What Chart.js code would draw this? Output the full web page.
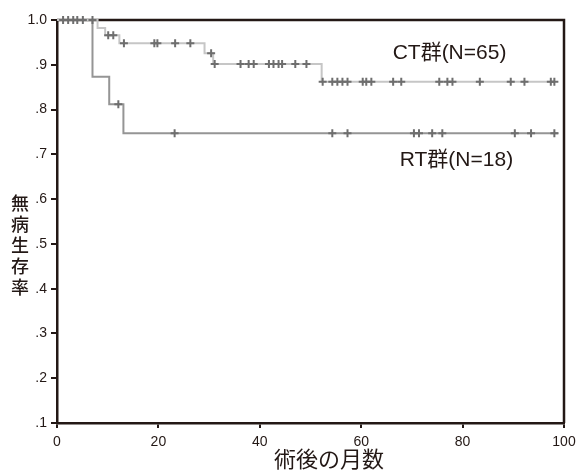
<!DOCTYPE html>
<html>
<head>
<meta charset="utf-8">
<script src="https://cdn.jsdelivr.net/npm/chart.js@4/dist/chart.umd.min.js"></script>
<style>
  html, body { margin: 0; padding: 0; background: #fff; }
  #wrap { width: 577px; height: 470px; }
</style>
</head>
<body>
<div id="wrap"><canvas id="myChart"></canvas></div>
<script>
'use strict'

// step curves (month, survival after the drop)
const ctTimes = [0, 8.0, 9.5, 12.3, 29.1, 30.8, 52.2, 98.1];
const ctSurv = [1, 0.982, 0.966, 0.948, 0.926, 0.902, 0.862, 0.862];
const rtTimes = [0, 7.0, 10.3, 13.1, 98.9];
const rtSurv = [1, 0.873, 0.812, 0.747, 0.747];

// censored cases (month)
const ctCensor = [1.2, 2.2, 3.2, 4.0, 5.1, 7.0, 10.1, 11.1, 13.2, 19.2, 19.8, 23.3, 26.3,
  30.4, 31.1, 36.2, 37.8, 38.8, 41.8, 42.7, 43.7, 44.4, 47.0, 49.2, 52.4, 54.3, 55.3,
  56.3, 57.3, 60.3, 61.0, 62.0, 66.3, 67.9, 75.4, 77.0, 78.0, 83.4, 89.5, 92.2, 97.4, 98.1];
const rtCensor = [12.1, 23.2, 54.3, 57.3, 70.4, 71.4, 74.0, 76.0, 90.3, 93.5, 98.1];

const xTicks = [0, 20, 40, 60, 80, 100];
const yTicks = [0.1, 0.2, 0.3, 0.4, 0.5, 0.6, 0.7, 0.8, 0.9, 1.0];

const ctLabel = 'CT群(N=65)';
const rtLabel = 'RT群(N=18)';
const xTitle = '術後の月数';
const yTitle = '無病生存率';

const INK = '#231815';
const NUM_FONT = '"Liberation Sans", Arial, "Noto Sans CJK JP", sans-serif';
const JP_FONT = '"Noto Sans CJK JP", sans-serif';

// survival value at time t on a step curve
function survAt(times, surv, t) {
  let s = surv[0];
  for (let i = 0; i < times.length; i++) {
    if (times[i] <= t) s = surv[i];
  }
  return s;
}

function curve(times, surv) {
  return times.map((t, i) => ({ x: t, y: surv[i] }));
}

function marks(times, surv, censor) {
  return censor.map(t => ({ x: t, y: survAt(times, surv, t) }));
}

// frame on top/right, drawn under the curves
const framePlugin = {
  id: 'frame',
  beforeDatasetsDraw(chart) {
    const { ctx, chartArea: a } = chart;
    ctx.save();
    ctx.strokeStyle = INK;
    ctx.lineWidth = 2.5;
    ctx.beginPath();
    ctx.moveTo(a.left, a.top);
    ctx.lineTo(a.right, a.top);
    ctx.lineTo(a.right, a.bottom);
    ctx.stroke();
    ctx.restore();
  }
};

// group labels + axis titles
const textPlugin = {
  id: 'texts',
  afterDraw(chart) {
    const { ctx } = chart;
    const xs = chart.scales.x;
    const ys = chart.scales.y;
    ctx.save();
    ctx.fillStyle = INK;
    ctx.textBaseline = 'middle';

    ctx.font = '21px ' + NUM_FONT;
    ctx.textAlign = 'left';
    ctx.fillText(ctLabel, xs.getPixelForValue(66.2), ys.getPixelForValue(0.926));
    ctx.fillText(rtLabel, xs.getPixelForValue(67.6), ys.getPixelForValue(0.687));

    ctx.textAlign = 'center';
    ctx.font = '22px ' + JP_FONT;
    ctx.fillText(xTitle, 329, 459);

    ctx.font = '500 18px ' + JP_FONT;
    for (let i = 0; i < yTitle.length; i++) {
      ctx.fillText(yTitle[i], 20, 203 + i * 21);
    }
    ctx.restore();
  }
};

const ctx = document.getElementById('myChart').getContext('2d');
const myChart = new Chart(ctx, {
  type: 'scatter',
  data: {
    datasets: [
      {
        label: 'CT censor',
        data: marks(ctTimes, ctSurv, ctCensor),
        pointStyle: 'cross',
        pointRadius: 4,
        pointBorderWidth: 2,
        borderColor: '#6e6e6e',
        backgroundColor: '#6e6e6e',
        order: 0,
        clip: false,
      },
      {
        label: 'RT censor',
        data: marks(rtTimes, rtSurv, rtCensor),
        pointStyle: 'cross',
        pointRadius: 4,
        pointBorderWidth: 2,
        borderColor: '#6e6e6e',
        backgroundColor: '#6e6e6e',
        order: 0,
        clip: false,
      },
      {
        label: 'CT',
        data: curve(ctTimes, ctSurv),
        showLine: true,
        stepped: true,
        borderColor: '#c6c6c6',
        borderWidth: 2,
        pointRadius: 0,
        order: 1,
        clip: false,
      },
      {
        label: 'RT',
        data: curve(rtTimes, rtSurv),
        showLine: true,
        stepped: true,
        borderColor: '#959595',
        borderWidth: 2,
        pointRadius: 0,
        order: 1,
        clip: false,
      },
    ],
  },
  options: {
    animation: false,
    responsive: true,
    maintainAspectRatio: false,
    layout: { padding: { left: 0, right: 0, top: 20, bottom: 0 } },
    plugins: {
      legend: { display: false },
      tooltip: { enabled: false },
    },
    scales: {
      x: {
        type: 'linear',
        min: 0,
        max: 100,
        afterFit: s => { s.height = 47; s.paddingRight = 13; s.paddingLeft = 0; },
        afterBuildTicks: s => { s.ticks = xTicks.map(v => ({ value: v })); },
        border: { display: true, color: INK, width: 2.5 },
        grid: { drawOnChartArea: false, drawTicks: true, tickLength: 5, color: INK, lineWidth: 2 },
        ticks: { color: INK, font: { family: NUM_FONT, size: 14 }, padding: 6, maxRotation: 0 },
      },
      y: {
        type: 'linear',
        min: 0.1,
        max: 1.0,
        afterFit: s => { s.width = 57; s.paddingTop = 0; s.paddingBottom = 0; },
        afterBuildTicks: s => { s.ticks = yTicks.map(v => ({ value: v })); },
        border: { display: true, color: INK, width: 2.5 },
        grid: { drawOnChartArea: false, drawTicks: true, tickLength: 6, color: INK, lineWidth: 2 },
        ticks: {
          color: INK,
          font: { family: NUM_FONT, size: 14 },
          padding: 4,
          callback: v => (v >= 0.999 ? '1.0' : v.toFixed(1).replace('0.', '.')),
        },
      },
    },
  },
  plugins: [framePlugin, textPlugin],
});
</script>
</body>
</html>
